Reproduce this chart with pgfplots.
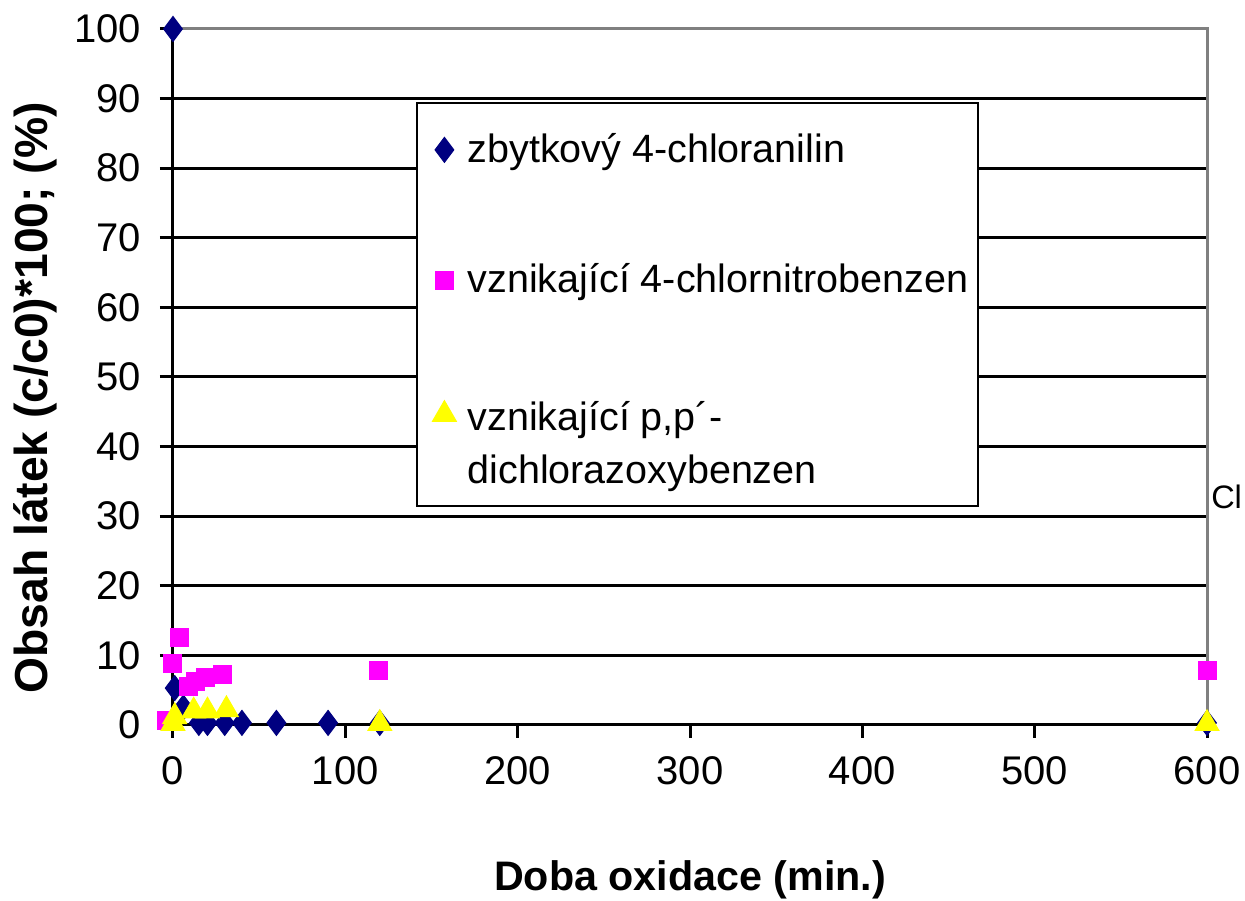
\documentclass[border=0pt]{standalone}
\usepackage{pgfplots}
\pgfplotsset{compat=1.18}
\usepackage{fontspec}
\setmainfont{Liberation Sans}
\definecolor{navyd}{RGB}{0,0,128}
\definecolor{mag}{RGB}{255,0,255}
\definecolor{yel}{RGB}{255,255,0}
\begin{document}
\begin{tikzpicture}[x=1pt,y=1pt]
\path[use as bounding box] (-69.2,-70.4) rectangle (428.8,290);
\begin{axis}[
  width=413.6pt, height=278.4pt, scale only axis,
  xmin=0, xmax=600, ymin=0, ymax=100,
  xtick={0,100,...,600}, ytick={0,10,...,100},
  clip=false,
  /pgf/number format/assume math mode=true,
  tick label style={font=\fontsize{16}{18}\selectfont},
  xticklabel style={yshift=-4pt},
  yticklabel style={xshift=-4pt},
  ymajorgrids,
  major grid style={black, line width=1.2pt},
  extra x ticks={0},
  extra x tick style={grid=major, xticklabel=\empty},
  axis line style={black, line width=1.2pt},
  tick style={black, line width=1.2pt},
  tick align=outside, major tick length=5.2pt,
  xtick pos=bottom, ytick pos=left,
  every axis x label/.style={at={(axis description cs:0.5,0)}, yshift=-62pt, anchor=center, font=\fontsize{16.5}{19}\selectfont\bfseries},
  every axis y label/.style={at={(axis description cs:0,0.47)}, xshift=-55.2pt, rotate=90, anchor=center, font=\fontsize{18.5}{21}\selectfont\bfseries},
  xlabel={Doba oxidace (min.)},
  ylabel={Obsah látek (c/c0)*100; (\%)},
  legend style={at={(rel axis cs:0.236,0.8937)}, anchor=north west, draw=none, fill=none,
    font=\fontsize{15.8}{21}\selectfont, row sep=35pt, column sep=2.5pt, inner xsep=6pt, inner ysep=10pt},
  legend cell align=left,
]
\addplot[only marks, mark=diamond*, mark size=5pt, color=navyd] coordinates {
(0,100) (1,5.3) (6,2.5) (15,0.3) (20,0.3) (30,0.3) (40,0.3) (60,0.3) (90,0.3) (120,0.3) (600,0.3)};
\addlegendentry{zbytkový 4-chloranilin}
\addplot[only marks, mark=square*, mark size=3.6pt, color=mag] coordinates {
(-3.5,0.7) (0,8.9) (4,12.5) (9,5.5) (13,6.2) (19,6.8) (29,7.2) (119,7.9) (600,7.8)};
\addlegendentry{vznikající 4-chlornitrobenzen}
\addplot[only marks, mark=triangle*, mark size=5.5pt, color=yel] coordinates {
(0,0.2) (1,1.2) (12,2.0) (20,2.0) (31,2.2) (120,0.2) (600,0.2)};
\addlegendentry{\begin{tabular}[t]{@{}l@{}}vznikající p,p´-\\dichlorazoxybenzen\end{tabular}}
\draw[gray, line width=1.2pt] (rel axis cs:0,1) -- (rel axis cs:1,1) -- (rel axis cs:1,0);
\draw[black, fill=white, line width=0.6pt] (rel axis cs:0.236,0.3147) rectangle (rel axis cs:0.7785,0.8937);
\node[anchor=west, font=\fontsize{13}{15}\selectfont, inner sep=0pt, xshift=1.5pt] at (axis cs:600,32.8) {Cl};
\end{axis}
\end{tikzpicture}
\end{document}
